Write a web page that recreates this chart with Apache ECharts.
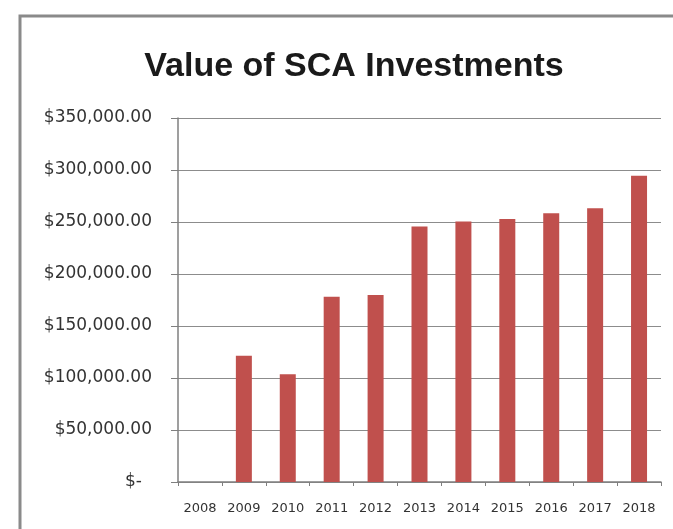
<!DOCTYPE html>
<html>
<head>
<meta charset="utf-8">
<script src="https://cdn.jsdelivr.net/npm/echarts@6/dist/echarts.min.js"></script>
<style>
html,body{margin:0;padding:0;background:#fff;}
#chart{width:673px;height:529px;}
</style>
</head>
<body>
<div id="chart"></div>
<script>
const titleText = 'Value of SCA Investments';
const years = ['2008','2009','2010','2011','2012','2013','2014','2015','2016','2017','2018'];
const values = [null, 121400, 103700, 178200, 179800, 245600, 250400, 253000, 258500, 263300, 294400];
const yMax = 350000;
const yStep = 50000;

function fmt(v){
  if (v === 0) return '{z|$-}';
  return '$' + v.toLocaleString('en-US', {minimumFractionDigits:2, maximumFractionDigits:2});
}

const chart = echarts.init(document.getElementById('chart'), null, {renderer:'canvas'});
chart.setOption({
  backgroundColor:'#ffffff',
  animation:false,
  title:{
    text:titleText,
    top:45,
    left:349,
    textAlign:'center',
    textStyle:{fontFamily:'Liberation Sans', fontWeight:'bold', fontSize:34, color:'#1a1a1a'}
  },
  graphic:[{
    type:'rect',
    shape:{x:20, y:16, width:700, height:600},
    style:{fill:'none', stroke:'#8a8a8a', lineWidth:3},
    silent:true
  }],
  grid:{left:178, right:12, top:118, bottom:47, containLabel:false},
  xAxis:{
    type:'category',
    data:years,
    axisLine:{lineStyle:{color:'#7f7f7f', width:1.5}},
    axisTick:{show:true, length:4, lineStyle:{color:'#7f7f7f'}},
    axisLabel:{fontFamily:'DejaVu Sans', fontSize:13, color:'#333', margin:20}
  },
  yAxis:{
    type:'value',
    min:0, max:yMax, interval:yStep,
    axisLine:{show:true, lineStyle:{color:'#7f7f7f', width:1.5}},
    axisTick:{show:true, length:7, lineStyle:{color:'#7f7f7f'}},
    splitLine:{lineStyle:{color:'#8c8c8c', width:1}},
    axisLabel:{
      fontFamily:'DejaVu Sans', fontSize:17, color:'#333', margin:26,
      formatter:fmt,
      rich:{z:{fontFamily:'DejaVu Sans', fontSize:17, color:'#333', padding:[0,10,0,0]}}
    }
  },
  series:[{
    type:'bar',
    data:values,
    barWidth:16,
    itemStyle:{color:'#c0504d'}
  }]
});
</script>
</body>
</html>
